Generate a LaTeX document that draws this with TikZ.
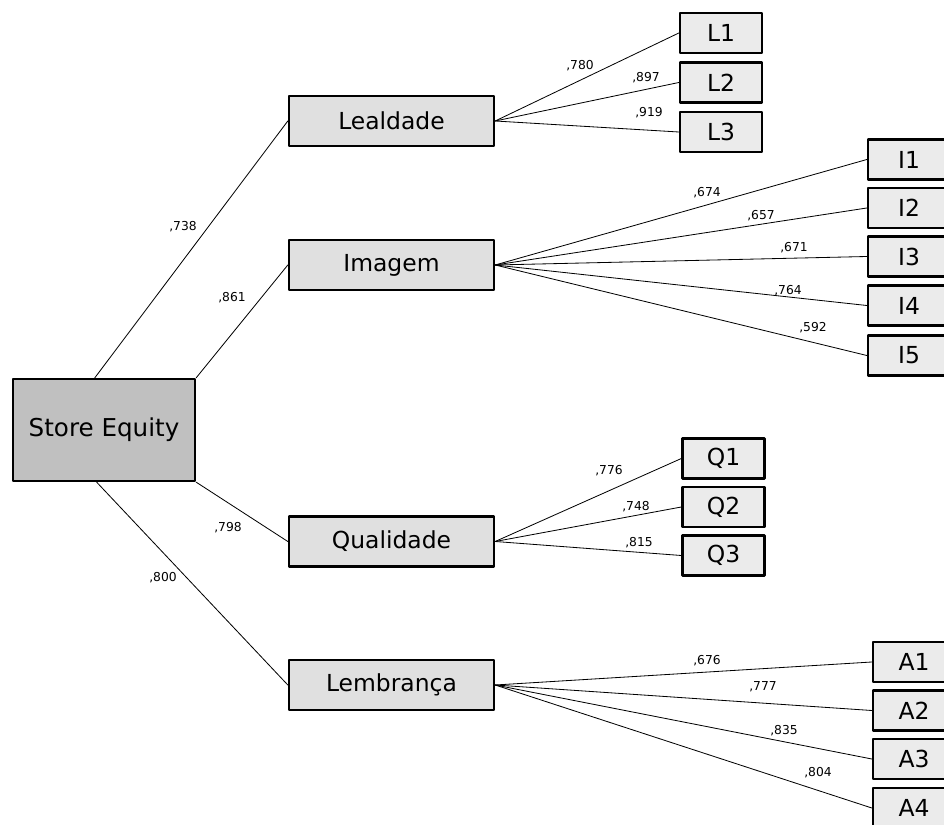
\documentclass[tikz,border=0pt]{standalone}
\usepackage{fontspec}
\setmainfont{DejaVu Sans}
\usepackage{tikz}

\definecolor{seGray}{RGB}{192,192,192}
\definecolor{facGray}{RGB}{224,224,224}
\definecolor{itemGray}{RGB}{235,235,235}

\begin{document}
\begin{tikzpicture}[line cap=round, line join=round, x=0.03cm, y=-0.03cm,
        factor/.style={draw, line width=2pt, fill=facGray, inner sep=0pt,
            minimum width=6.15cm, minimum height=1.5cm, font=\fontsize{20}{24}\selectfont},
        item/.style={draw, line width=2pt, fill=itemGray, inner sep=0pt,
            minimum width=2.46cm, minimum height=1.2cm, font=\fontsize{20}{24}\selectfont},
        wt/.style={inner sep=0pt, font=\fontsize{10.5}{12}\selectfont},
        link/.style={line width=0.7pt}]
                \useasboundingbox (0, 0) rectangle (944, 825);
                \clip (0, 0) rectangle (944, 825);

                % Store Equity and the four factors
                \node[factor, fill=seGray, minimum width=5.46cm, minimum height=3.06cm,
                    font=\fontsize{21}{25}\selectfont] (se) at (104, 430) {Store Equity};
                \node[factor] (leal) at (391.5, 121) {Lealdade};
                \node[factor] (imag) at (391.5, 265) {Imagem};
                \node[factor] (qual) at (391.5, 541.5) {Qualidade};
                \node[factor] (lemb) at (391.5, 685) {Lembrança};

                % Lealdade items
                \node[item] (l1) at (721, 33) {L1};
                \node[item] (l2) at (721, 82.5) {L2};
                \node[item] (l3) at (721, 132) {L3};

                % Imagem items
                \node[item] (i1) at (909, 159.5) {I1};
                \node[item] (i2) at (909, 208) {I2};
                \node[item] (i3) at (909, 256.5) {I3};
                \node[item] (i4) at (909, 305.5) {I4};
                \node[item] (i5) at (909, 355.5) {I5};

                % Qualidade items
                \node[item] (q1) at (723.5, 458.5) {Q1};
                \node[item] (q2) at (723.5, 507) {Q2};
                \node[item] (q3) at (723.5, 555.5) {Q3};

                % Lembranca items
                \node[item] (a1) at (914, 662) {A1};
                \node[item] (a2) at (914, 710.5) {A2};
                \node[item] (a3) at (914, 759) {A3};
                \node[item] (a4) at (914, 808) {A4};

                % Store Equity -> factors
                \draw[link] (se.100) -- (leal.west);
                \draw[link] (se.north east) -- (imag.west);
                \draw[link] (se.south east) -- (qual.west);
                \draw[link] (se.-98) -- (lemb.west);
                \node[wt] (w738) at (183, 227) {,738};
                \node[wt] (w861) at (232, 298) {,861};
                \node[wt] (w798) at (228, 528) {,798};
                \node[wt] (w800) at (163, 578) {,800};

                % Lealdade -> L
                \draw[link] (leal.east) -- (l1.west);
                \draw[link] (leal.east) -- (l2.west);
                \draw[link] (leal.east) -- (l3.west);
                \node[wt] (w780) at (580, 66) {,780};
                \node[wt] (w897) at (646, 78) {,897};
                \node[wt] (w919) at (649, 113) {,919};

                % Imagem -> I
                \draw[link] (imag.east) -- (i1.west);
                \draw[link] (imag.east) -- (i2.west);
                \draw[link] (imag.east) -- (i3.west);
                \draw[link] (imag.east) -- (i4.west);
                \draw[link] (imag.east) -- (i5.west);
                \node[wt] (w674) at (707, 193) {,674};
                \node[wt] (w657) at (761, 216) {,657};
                \node[wt] (w671) at (794, 248) {,671};
                \node[wt] (w764) at (788, 291) {,764};
                \node[wt] (w592) at (813, 328) {,592};

                % Qualidade -> Q
                \draw[link] (qual.east) -- (q1.west);
                \draw[link] (qual.east) -- (q2.west);
                \draw[link] (qual.east) -- (q3.west);
                \node[wt] (w776) at (609, 471) {,776};
                \node[wt] (w748) at (636, 507) {,748};
                \node[wt] (w815) at (639, 543) {,815};

                % Lembranca -> A
                \draw[link] (lemb.east) -- (a1.west);
                \draw[link] (lemb.east) -- (a2.west);
                \draw[link] (lemb.east) -- (a3.west);
                \draw[link] (lemb.east) -- (a4.west);
                \node[wt] (w676) at (707, 661) {,676};
                \node[wt] (w777) at (763, 687) {,777};
                \node[wt] (w835) at (784, 731) {,835};
                \node[wt] (w804) at (818, 773) {,804};
            \end{tikzpicture}
\end{document}
